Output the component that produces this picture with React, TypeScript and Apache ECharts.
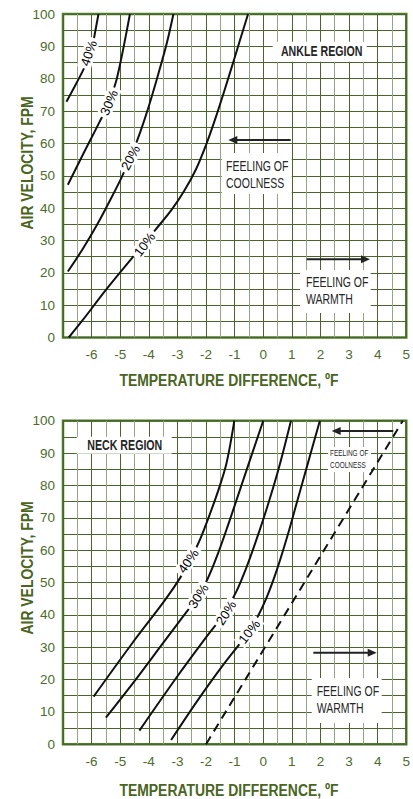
import React, { useEffect, useRef } from "react";
import * as echarts from "echarts";

// ---------- data ----------
const xTickValues = [-6, -5, -4, -3, -2, -1, 0, 1, 2, 3, 4, 5];
const yTickValues = [0, 10, 20, 30, 40, 50, 60, 70, 80, 90, 100];

// Ankle region curves [temperature difference (F), air velocity (fpm)]
const ankle10 = [[-6.8, 0], [-6.3, 5.5], [-5.5, 14.7], [-4.64, 24], [-3.77, 33.3], [-3.2, 39.5], [-2.75, 45.5], [-2.35, 52], [-2.0, 59.5], [-1.68, 67.5], [-1.35, 76.5], [-1.0, 86.5], [-0.53, 100]];
const ankle20 = [[-6.83, 20.4], [-6.3, 27.5], [-5.8, 35], [-5.35, 42.5], [-4.95, 49.5], [-4.6, 56.5], [-4.3, 63.5], [-4.0, 71.5], [-3.66, 81.7], [-3.37, 91], [-3.14, 100]];
const ankle30 = [[-6.83, 47.2], [-6.25, 57.5], [-5.73, 66.5], [-5.39, 72.8], [-5.15, 79], [-4.98, 85.5], [-4.81, 93], [-4.66, 100]];
const ankle40 = [[-6.88, 72.9], [-6.55, 78.3], [-6.25, 83.5], [-6.0, 89], [-5.88, 94.3], [-5.76, 100]];

// Neck region curves
const neck10 = [[-3.22, 1.3], [-2.28, 13.7], [-1.4, 24.5], [-0.7, 32.5], [-0.25, 38.5], [0.15, 46], [0.5, 54.5], [0.85, 64.5], [1.2, 75.5], [1.55, 86.5], [1.98, 100]];
const neck20 = [[-4.33, 4.2], [-3.0, 21], [-2.0, 33], [-1.4, 40], [-0.95, 47], [-0.55, 55.5], [-0.15, 65.5], [0.2, 75], [0.55, 85.5], [0.97, 100]];
const neck30 = [[-5.5, 8.2], [-4.5, 19.5], [-3.55, 30.7], [-2.8, 39.5], [-2.3, 45.5], [-1.95, 51], [-1.6, 58.5], [-1.2, 68.5], [-0.8, 79], [-0.4, 89.5], [0.0, 100]];
const neck40 = [[-5.93, 14.7], [-4.58, 31.2], [-3.43, 44.6], [-2.9, 51.5], [-2.55, 57], [-2.2, 63.5], [-1.85, 71.5], [-1.55, 79], [-1.28, 87], [-1.01, 100]];
const neckDashed = [[-2.0, 0], [4.88, 100]];

// curve labels: [x, y, rotation deg]
const ankleLabelNames = ["10%", "20%", "30%", "40%"];
const ankleLabelPos = [[-4.15, 28.8, 53], [-4.64, 55.6, 62], [-5.39, 72.6, 67], [-6.1, 87.9, 71]];
const neckLabelNames = ["10%", "20%", "30%", "40%"];
const neckLabelPos = [[-0.49, 34.8, 52], [-1.3, 40.6, 57], [-2.27, 45.8, 58], [-2.62, 56.6, 55]];

// ---------- styles ----------
const FONT = "'Liberation Sans', Arial, sans-serif";
const GREEN_TEXT = "#4d6b2b";
const GREEN_TITLE = "#4a6522";
const GRID_DARK = "#48652b";
const GRID_LIGHT = "#93a682";
const BORDER = "#4f7c2a";
const INK = "#111111";

function xAxis(gridIndex: number) {
  return {
    type: "value",
    gridIndex,
    min: -7,
    max: 5,
    interval: 0.5,
    axisLine: { show: false },
    axisTick: { show: false },
    axisLabel: {
      color: GREEN_TEXT,
      fontSize: 13.5,
      fontFamily: FONT,
      margin: 10,
      formatter: (v: number) => (xTickValues.includes(v) ? String(v) : ""),
    },
    splitLine: { show: true, lineStyle: { color: [GRID_DARK, GRID_LIGHT], width: 1 } },
  };
}
function yAxis(gridIndex: number) {
  return {
    type: "value",
    gridIndex,
    min: 0,
    max: 100,
    interval: 5,
    axisLine: { show: false },
    axisTick: { show: false },
    axisLabel: {
      color: GREEN_TEXT,
      fontSize: 13.5,
      fontFamily: FONT,
      margin: 8,
      formatter: (v: number) => (yTickValues.includes(v) ? String(v) : ""),
    },
    splitLine: { show: true, lineStyle: { color: GRID_DARK, width: 1 } },
  };
}

function curve(data: number[][], idx: number, dashed = false) {
  return {
    type: "line",
    xAxisIndex: idx,
    yAxisIndex: idx,
    data,
    smooth: dashed ? false : 0.35,
    symbol: "none",
    z: 3,
    lineStyle: { color: INK, width: 2, type: dashed ? [9, 6] : "solid" },
  };
}

function labels(names: string[], pos: number[][], idx: number) {
  return names.map((n, i) => ({
    type: "scatter",
    xAxisIndex: idx,
    yAxisIndex: idx,
    z: 6,
    symbolSize: 1,
    itemStyle: { color: "rgba(255,255,255,0)" },
    data: [[pos[i][0], pos[i][1]]],
    label: {
      show: true,
      position: "inside",
      formatter: n,
      rotate: pos[i][2],
      color: "#000",
      opacity: 1,
      fontSize: 13,
      fontWeight: 500,
      fontFamily: FONT,
      textBorderWidth: 0,
      backgroundColor: "#fff",
      padding: [1, 3, 0, 3],
    },
  }));
}

function textBox(x: number, y: number, w: number, h: number, text: string, font: string, tx: number, ty: number, align: string, lineHeight: number, sx: number) {
  return [
    { type: "rect", z: 10, shape: { x, y, width: w, height: h }, style: { fill: "#fff" } },
    {
      type: "text",
      z: 11,
      x: tx,
      y: ty,
      scaleX: sx,
      style: { text, font, fill: "#262626", textAlign: align, textVerticalAlign: "middle", lineHeight },
    },
  ];
}

function arrow(x1: number, x2: number, y: number) {
  const dir = x2 > x1 ? 1 : -1;
  return [
    { type: "line", z: 12, shape: { x1, y1: y, x2: x2 - dir * 6, y2: y }, style: { stroke: "#222", lineWidth: 2 } },
    {
      type: "polygon",
      z: 12,
      shape: { points: [[x2, y], [x2 - dir * 9, y - 4], [x2 - dir * 9, y + 4]] },
      style: { fill: "#222" },
    },
  ];
}

function title(text: string, x: number, y: number, vertical: boolean) {
  return {
    type: "text",
    x,
    y,
    rotation: vertical ? Math.PI / 2 : 0,
    scaleX: 0.82,
    style: { text, font: `bold 17px ${FONT}`, fill: GREEN_TITLE, textAlign: "center", textVerticalAlign: "middle" },
  };
}

export default function App() {
  const ref = useRef<HTMLDivElement>(null);
  useEffect(() => {
    if (!ref.current) return;
    const chart = echarts.init(ref.current, undefined, { renderer: "svg" });
    chart.setOption({
      animation: false,
      backgroundColor: "#fff",
      grid: [
        { left: 63, top: 14, right: 2.5, height: 323.5, show: true, borderColor: BORDER, borderWidth: 2.5, backgroundColor: "#fff" },
        { left: 63, top: 420.7, right: 2.5, height: 323.5, show: true, borderColor: BORDER, borderWidth: 2.5, backgroundColor: "#fff" },
      ],
      xAxis: [xAxis(0), xAxis(1)],
      yAxis: [yAxis(0), yAxis(1)],
      series: [
        curve(ankle10, 0),
        curve(ankle20, 0),
        curve(ankle30, 0),
        curve(ankle40, 0),
        curve(neck10, 1),
        curve(neck20, 1),
        curve(neck30, 1),
        curve(neck40, 1),
        curve(neckDashed, 1, true),
        ...labels(ankleLabelNames, ankleLabelPos, 0),
        ...labels(neckLabelNames, neckLabelPos, 1),
      ],
      graphic: [
        title("AIR VELOCITY, FPM", 27, 163, true),
        title("AIR VELOCITY, FPM", 27, 568, true),
        title("TEMPERATURE DIFFERENCE, ºF", 229, 380, false),
        title("TEMPERATURE DIFFERENCE, ºF", 229, 790, false),
        // ankle annotations
        ...textBox(272.7, 41.7, 94, 20, "ANKLE REGION", `bold 14px ${FONT}`, 321.7, 51.5, "center", 16, 0.76),
        ...arrow(290.7, 228.3, 140),
        ...textBox(221.7, 153, 70, 41, "FEELING OF\nCOOLNESS", `14px ${FONT}`, 226, 175, "left", 16.6, 0.75),
        ...arrow(306.7, 370, 259.3),
        ...textBox(300, 270, 70.7, 43, "FEELING OF\nWARMTH", `14px ${FONT}`, 306, 291, "left", 16.6, 0.75),
        // neck annotations
        ...textBox(76.7, 436.7, 95, 17, "NECK REGION", `bold 14px ${FONT}`, 124.8, 445.5, "center", 16, 0.76),
        ...arrow(393.3, 331.7, 431),
        ...textBox(328, 447, 43, 25, "FEELING OF\nCOOLNESS", `9.5px ${FONT}`, 330, 459.2, "left", 11.7, 0.68),
        ...arrow(313.3, 376.7, 652.7),
        ...textBox(311.7, 678, 70, 45, "FEELING OF\nWARMTH", `14px ${FONT}`, 316.7, 700, "left", 16.6, 0.75),
      ],
    });
    return () => chart.dispose();
  }, []);
  return <div ref={ref} style={{ position: "fixed", left: 0, top: 0, width: 413, height: 799 }} />;
}
